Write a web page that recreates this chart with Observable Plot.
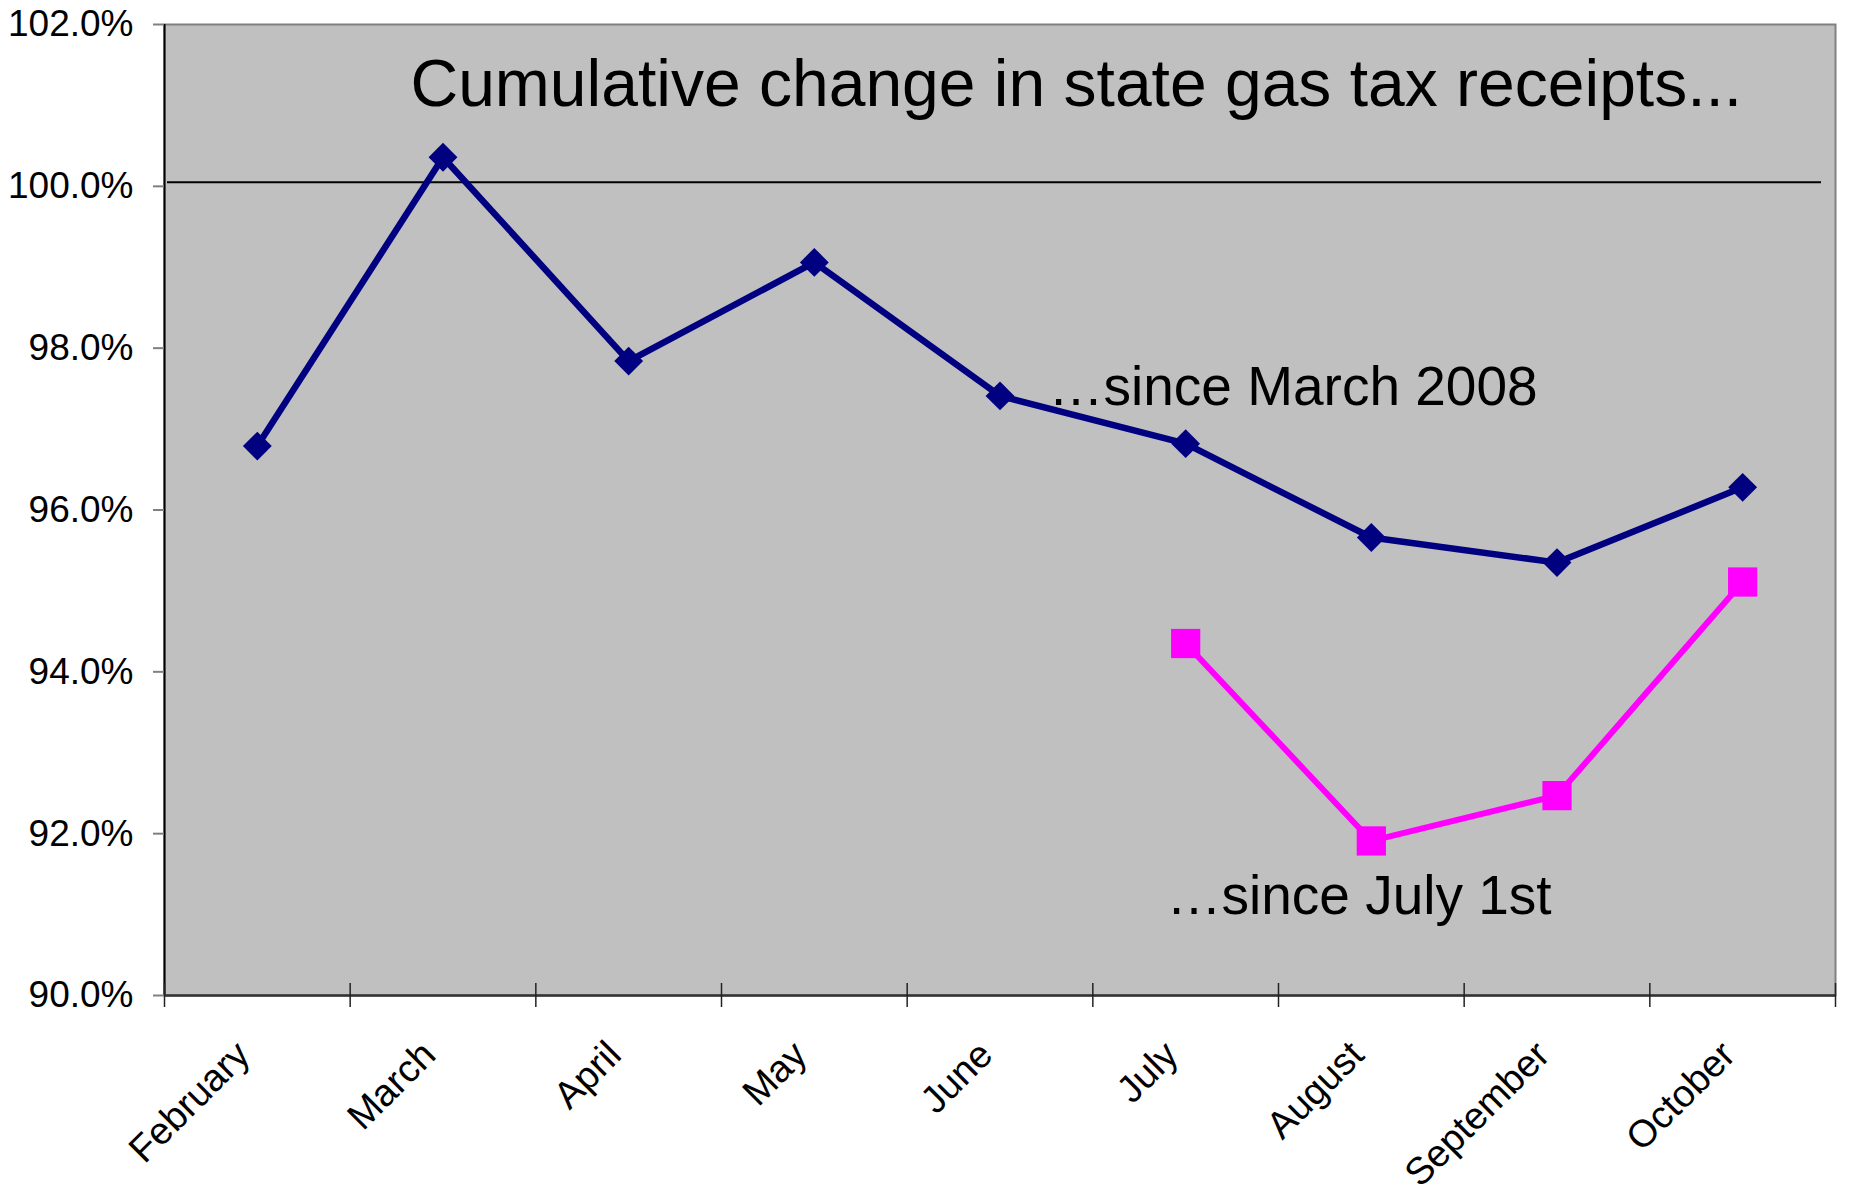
<!DOCTYPE html>
<html><head><meta charset="utf-8">
<script src="https://cdn.jsdelivr.net/npm/d3@7"></script>
<script src="https://cdn.jsdelivr.net/npm/@observablehq/plot@0.6"></script>
<style>body{margin:0;background:#fff;}</style>
</head><body><div id="chart"></div>
<script>
// ---- data ----
const months = ["February","March","April","May","June","July","August","September","October"];
const sinceMarch = [96.79, 100.36, 97.84, 99.06, 97.41, 96.82, 95.66, 95.35, 96.28];
const sinceJulyMonths = ["July","August","September","October"];
const sinceJuly = [94.35, 91.91, 92.47, 95.11];
const yTicks = [90, 92, 94, 96, 98, 100, 102];
const refLine = [100.05];
const titleText = "Cumulative change in state gas tax receipts...";
const labelMarch = "\u2026since March 2008";
const labelJuly = "\u2026since July 1st";

// ---- build tables ----
const pos = m => months.indexOf(m) + 0.5;
const dataA = months.map((m, i) => ({x: pos(m), y: sinceMarch[i]}));
const dataB = sinceJulyMonths.map((m, i) => ({x: pos(m), y: sinceJuly[i]}));
const bounds = d3.range(0, months.length + 1);
const centers = months.map(pos);

const W = 1851, H = 1193, mL = 164, mT = 24, mR = 16, mB = 198;
const plotH = H - mT - mB;
const font = "'Liberation Sans', Arial, Helvetica, sans-serif";

const chart = Plot.plot({
  width: W, height: H,
  marginLeft: mL, marginTop: mT, marginRight: mR, marginBottom: mB,
  style: {fontFamily: font, background: "#fff", color: "#000", overflow: "visible"},
  x: {type: "linear", domain: [0, months.length]},
  y: {domain: [90, 102]},
  marks: [
    Plot.frame({fill: "#c0c0c0", stroke: "#808080", strokeWidth: 2}),
    Plot.ruleY(refLine, {stroke: "#000", strokeWidth: 2, insetLeft: 3, insetRight: 14}),
    Plot.ruleX([0], {stroke: "#000", strokeWidth: 2}),
    Plot.ruleY([90], {stroke: "#333", strokeWidth: 2.5}),
    Plot.tickX(bounds, {x: d => d, insetTop: plotH - 12, insetBottom: -12, stroke: "#222", strokeWidth: 1.5}),
    Plot.axisY({ticks: yTicks, tickFormat: d => d.toFixed(1) + "%", tickSize: 11, tickPadding: 20,
      fontSize: 37, stroke: "#808080", fill: "#000", strokeWidth: 2, label: null}),
    Plot.axisX({ticks: centers, tickFormat: d => months[Math.round(d - 0.5)], tickRotate: -45,
      tickSize: 0, tickPadding: 53, dx: -14, fontSize: 38, fill: "#000", label: null}),
    Plot.line(dataA, {x: "x", y: "y", stroke: "#000080", strokeWidth: 6.5}),
    Plot.dot(dataA, {x: "x", y: "y", symbol: "diamond2", r: 13, fill: "#000080"}),
    Plot.line(dataB, {x: "x", y: "y", stroke: "#ff00ff", strokeWidth: 6}),
    Plot.dot(dataB, {x: "x", y: "y", symbol: "square", r: 16.5, fill: "#ff00ff"}),
    Plot.text([titleText], {text: d => d, frameAnchor: "top-left", dx: 246, dy: 35,
      lineAnchor: "top", textAnchor: "start", fontSize: 66, fill: "#000"}),
    Plot.text([labelMarch], {text: d => d, frameAnchor: "top-left", dx: 884, dy: 341,
      lineAnchor: "top", textAnchor: "start", fontSize: 55, fill: "#000"}),
    Plot.text([labelJuly], {text: d => d, frameAnchor: "top-left", dx: 1002, dy: 850,
      lineAnchor: "top", textAnchor: "start", fontSize: 55, fill: "#000"})
  ]
});
document.getElementById("chart").appendChild(chart);
</script>
</body></html>
